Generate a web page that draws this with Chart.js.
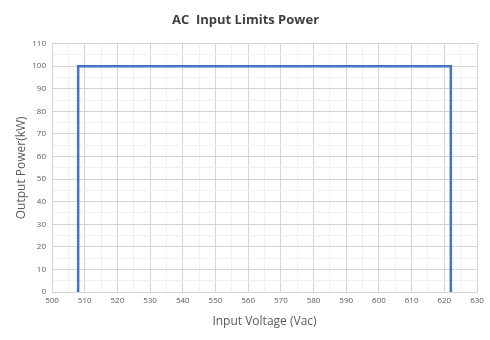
<!DOCTYPE html>
<html><head><meta charset="utf-8">
<script src="https://cdn.jsdelivr.net/npm/chart.js@4/dist/chart.umd.min.js"></script>
<style>html,body{margin:0;padding:0;background:#fff}#wrap{width:490px;height:340px}</style>
</head><body><div id="wrap"><canvas id="c" width="490" height="340"></canvas></div>
<script>
const voltages = [508, 508, 622, 622];
const powers = [0, 100, 100, 0];
const xTicks = { min: 500, max: 630, major: 10, minor: 5 };
const yTicks = { min: 0, max: 110, major: 10, minor: 5 };

const pts = voltages.map((v, i) => ({ x: v, y: powers[i] }));
const FONT = "'Open Sans', 'Liberation Sans', sans-serif";
const gridColor = (ctx, ax) => (ctx.tick && (ctx.tick.value - ax.min) % ax.major === 0) ? '#d4d4d4' : '#f0f0f0';

new Chart(document.getElementById('c'), {
  type: 'scatter',
  data: { datasets: [{ data: pts, showLine: true, borderColor: '#4472C4', borderWidth: 2.5, pointRadius: 0, fill: false, tension: 0 }] },
  options: {
    responsive: false, animation: false,
    layout: { padding: { left: 14, right: 13, top: 0, bottom: 11 } },
    plugins: {
      legend: { display: false }, tooltip: { enabled: false },
      title: { display: true, text: 'AC  Input Limits Power', color: '#404040', font: { family: FONT, size: 13, weight: 'bold' }, padding: { top: 12, bottom: 16 } }
    },
    scales: {
      x: {
        type: 'linear', min: xTicks.min, max: xTicks.max,
        ticks: { stepSize: xTicks.minor, autoSkip: false, maxRotation: 0, color: '#595959', font: { family: FONT, size: 8 }, padding: 4,
          callback: v => (v - xTicks.min) % xTicks.major === 0 ? String(v) : '' },
        grid: { color: ctx => gridColor(ctx, xTicks), drawTicks: false },
        border: { color: '#d4d4d4' },
        title: { display: true, text: 'Input Voltage (Vac)', color: '#595959', font: { family: FONT, size: 12 }, padding: { top: 4, bottom: 0 } },
        afterFit: a => { a.height = 37; }
      },
      y: {
        min: yTicks.min, max: yTicks.max,
        ticks: { stepSize: yTicks.minor, autoSkip: false, color: '#595959', font: { family: FONT, size: 8 }, padding: 6,
          callback: v => (v - yTicks.min) % yTicks.major === 0 ? String(v) : '' },
        grid: { color: ctx => gridColor(ctx, yTicks), drawTicks: false },
        border: { color: '#d4d4d4' },
        title: { display: true, text: 'Output Power(kW)', color: '#595959', font: { family: FONT, size: 12 }, padding: { top: 0, bottom: 4 } },
        afterFit: a => { a.width = 38; }
      }
    }
  }
});
</script></body></html>
